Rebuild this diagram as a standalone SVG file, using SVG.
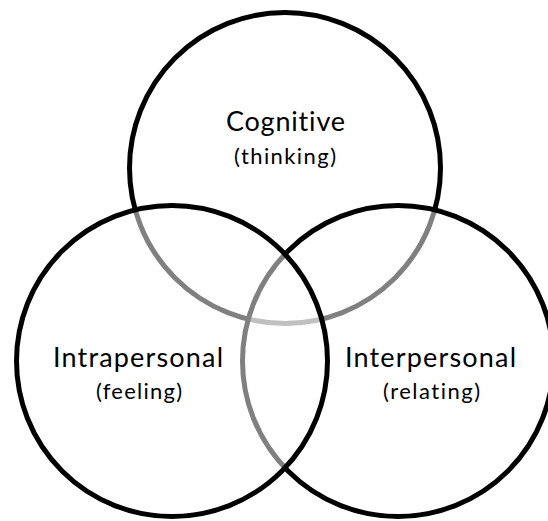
<svg xmlns="http://www.w3.org/2000/svg" width="548" height="521" viewBox="0 0 548 521">
<style>
.ring{fill:#ffffff;fill-opacity:0.5;stroke:#000000;stroke-width:5}
.main{font-family:Lato,"Liberation Sans",sans-serif;font-size:27px;fill:#000000;font-variant-ligatures:none}
.sub{font-family:Lato,"Liberation Sans",sans-serif;font-size:22px;fill:#000000;font-variant-ligatures:none}
</style>
<rect x="0" y="0" width="548" height="521" fill="#ffffff"/>
<g id="cognitive">
<circle class="ring" cx="285" cy="168" r="155.5"/>
<text class="main" x="226" y="131" textLength="119" lengthAdjust="spacing">Cognitive</text>
<text class="sub" x="234" y="164" textLength="102" lengthAdjust="spacing">(thinking)</text>
</g>
<g id="interpersonal">
<circle class="ring" cx="398" cy="361" r="155.5"/>
<text class="main" x="345" y="367" textLength="171" lengthAdjust="spacing">Interpersonal</text>
<text class="sub" x="383" y="399" textLength="97" lengthAdjust="spacing">(relating)</text>
</g>
<g id="intrapersonal">
<circle class="ring" cx="172" cy="361" r="155.5"/>
<text class="main" x="53" y="367" textLength="170" lengthAdjust="spacing">Intrapersonal</text>
<text class="sub" x="96" y="399" textLength="86" lengthAdjust="spacing">(feeling)</text>
</g>
<g id="connectors"/>
</svg>
